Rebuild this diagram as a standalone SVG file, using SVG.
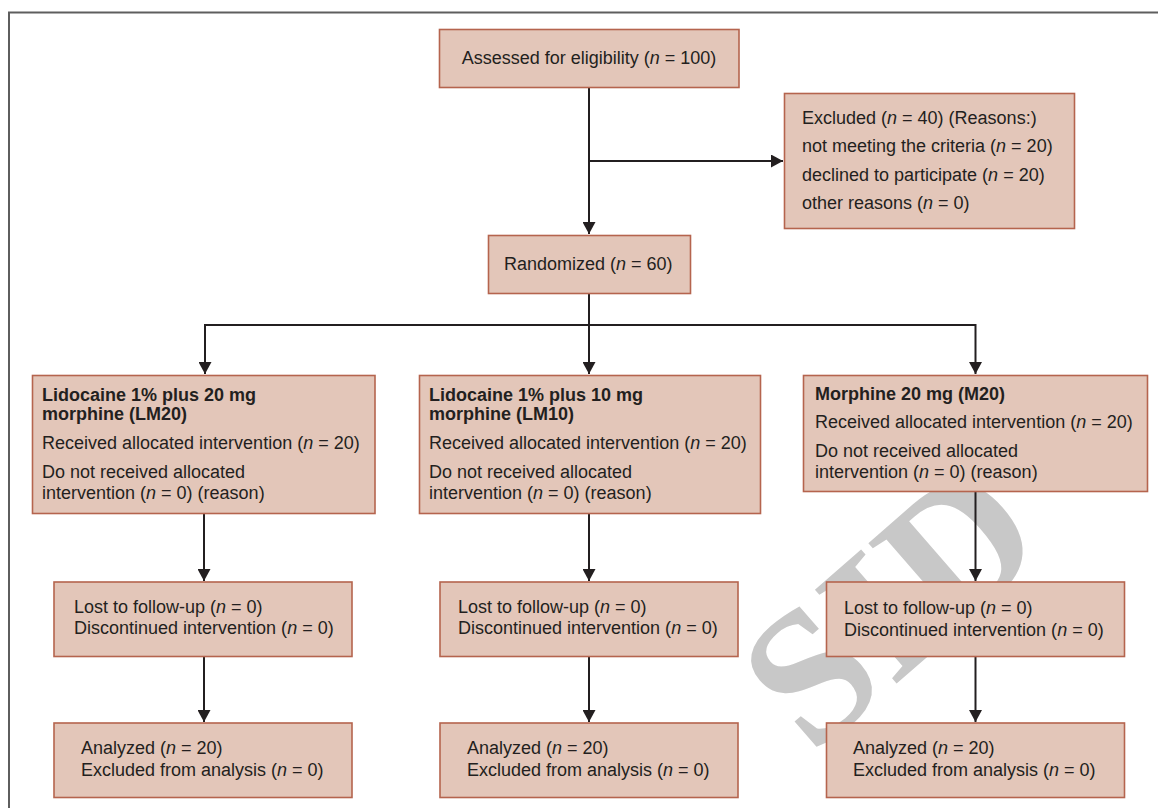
<svg xmlns="http://www.w3.org/2000/svg" width="1158" height="808" viewBox="0 0 1158 808">
<style>
.box{fill:#e3c6b9;stroke:#b5644e;stroke-width:1.6}
.t{font-family:"Liberation Sans",Arial,sans-serif;font-size:18px;fill:#231f20}
.b{font-weight:bold}
.i{font-style:italic}
.c{fill:none;stroke:#231f20;stroke-width:2}
.wm{font-family:"Liberation Serif","Times New Roman",serif;font-weight:bold;font-size:190px;fill:#c8c8c8}
</style>
<defs>
<marker id="ah" viewBox="0 0 12 13" markerWidth="12" markerHeight="13" markerUnits="userSpaceOnUse" refX="12" refY="6.5" orient="auto">
<path d="M0,0 L12,6.5 L0,13 z" fill="#231f20"/>
</marker>
</defs>
<rect width="1158" height="808" fill="#ffffff"/>
<path d="M9,808 V12.5 H1158" fill="none" stroke="#5e5e5e" stroke-width="2"/>
<g id="watermark">
<text class="wm" transform="translate(812,757) rotate(-41)">SID</text>
</g>
<g id="connectors">
<path class="c" d="M589,88 V234" marker-end="url(#ah)"/>
<path class="c" d="M589,161 H783" marker-end="url(#ah)"/>
<path class="c" d="M589,293 V325"/>
<path class="c" d="M205,325 H976"/>
<path class="c" d="M205,324 V374" marker-end="url(#ah)"/>
<path class="c" d="M589,325 V374" marker-end="url(#ah)"/>
<path class="c" d="M975.5,324 V374" marker-end="url(#ah)"/>
<path class="c" d="M204,514 V581" marker-end="url(#ah)"/>
<path class="c" d="M589,514 V581" marker-end="url(#ah)"/>
<path class="c" d="M975.5,492 V581" marker-end="url(#ah)"/>
<path class="c" d="M204,657 V722" marker-end="url(#ah)"/>
<path class="c" d="M589,657 V722" marker-end="url(#ah)"/>
<path class="c" d="M975.5,657 V722" marker-end="url(#ah)"/>
</g>
<g id="assessed">
<rect class="box" x="439.5" y="29.5" width="299.5" height="58"/>
<text class="t" x="589" y="64" text-anchor="middle">Assessed for eligibility (<tspan class="i">n</tspan> = 100)</text>
</g>
<g id="excluded">
<rect class="box" x="784.5" y="93.5" width="290" height="135"/>
<text class="t" x="802" y="123.5">Excluded (<tspan class="i">n</tspan> = 40) (Reasons:)</text>
<text class="t" x="802" y="152">not meeting the criteria (<tspan class="i">n</tspan> = 20)</text>
<text class="t" x="802" y="180.5">declined to participate (<tspan class="i">n</tspan> = 20)</text>
<text class="t" x="802" y="208.5">other reasons (<tspan class="i">n</tspan> = 0)</text>
</g>
<g id="randomized">
<rect class="box" x="488.5" y="235.5" width="202" height="58"/>
<text class="t" x="504" y="270">Randomized (<tspan class="i">n</tspan> = 60)</text>
</g>
<g id="lm20">
<rect class="box" x="32.5" y="375.5" width="342.5" height="138"/>
<text class="t b" x="42" y="400.5">Lidocaine 1% plus 20 mg</text>
<text class="t b" x="42" y="420">morphine (LM20)</text>
<text class="t" x="42" y="449">Received allocated intervention (<tspan class="i">n</tspan> = 20)</text>
<text class="t" x="42" y="478">Do not received allocated</text>
<text class="t" x="42" y="498.5">intervention (<tspan class="i">n</tspan> = 0) (reason)</text>
</g>
<g id="lm10">
<rect class="box" x="419.5" y="375.5" width="341" height="138"/>
<text class="t b" x="429" y="400.5">Lidocaine 1% plus 10 mg</text>
<text class="t b" x="429" y="420">morphine (LM10)</text>
<text class="t" x="429" y="449">Received allocated intervention (<tspan class="i">n</tspan> = 20)</text>
<text class="t" x="429" y="478">Do not received allocated</text>
<text class="t" x="429" y="498.5">intervention (<tspan class="i">n</tspan> = 0) (reason)</text>
</g>
<g id="m20">
<rect class="box" x="803.5" y="375.5" width="344" height="116"/>
<text class="t b" x="815" y="399.5">Morphine 20 mg (M20)</text>
<text class="t" x="815" y="428">Received allocated intervention (<tspan class="i">n</tspan> = 20)</text>
<text class="t" x="815" y="457">Do not received allocated</text>
<text class="t" x="815" y="477.5">intervention (<tspan class="i">n</tspan> = 0) (reason)</text>
</g>
<g id="followup-lm20">
<rect class="box" x="54" y="582" width="298" height="74.5"/>
<text class="t" x="74" y="612.5">Lost to follow-up (<tspan class="i">n</tspan> = 0)</text>
<text class="t" x="74" y="634">Discontinued intervention (<tspan class="i">n</tspan> = 0)</text>
</g>
<g id="followup-lm10">
<rect class="box" x="440" y="582" width="298" height="74.5"/>
<text class="t" x="458" y="612.5">Lost to follow-up (<tspan class="i">n</tspan> = 0)</text>
<text class="t" x="458" y="634">Discontinued intervention (<tspan class="i">n</tspan> = 0)</text>
</g>
<g id="followup-m20">
<rect class="box" x="826.5" y="582" width="298" height="74.5"/>
<text class="t" x="844" y="613.5">Lost to follow-up (<tspan class="i">n</tspan> = 0)</text>
<text class="t" x="844" y="635.5">Discontinued intervention (<tspan class="i">n</tspan> = 0)</text>
</g>
<g id="analyzed-lm20">
<rect class="box" x="54" y="723" width="298" height="74.5"/>
<text class="t" x="81" y="754">Analyzed (<tspan class="i">n</tspan> = 20)</text>
<text class="t" x="81" y="776">Excluded from analysis (<tspan class="i">n</tspan> = 0)</text>
</g>
<g id="analyzed-lm10">
<rect class="box" x="440" y="723" width="298" height="74.5"/>
<text class="t" x="467" y="754">Analyzed (<tspan class="i">n</tspan> = 20)</text>
<text class="t" x="467" y="776">Excluded from analysis (<tspan class="i">n</tspan> = 0)</text>
</g>
<g id="analyzed-m20">
<rect class="box" x="826.5" y="723" width="298" height="74.5"/>
<text class="t" x="853" y="754">Analyzed (<tspan class="i">n</tspan> = 20)</text>
<text class="t" x="853" y="776">Excluded from analysis (<tspan class="i">n</tspan> = 0)</text>
</g>
</svg>
